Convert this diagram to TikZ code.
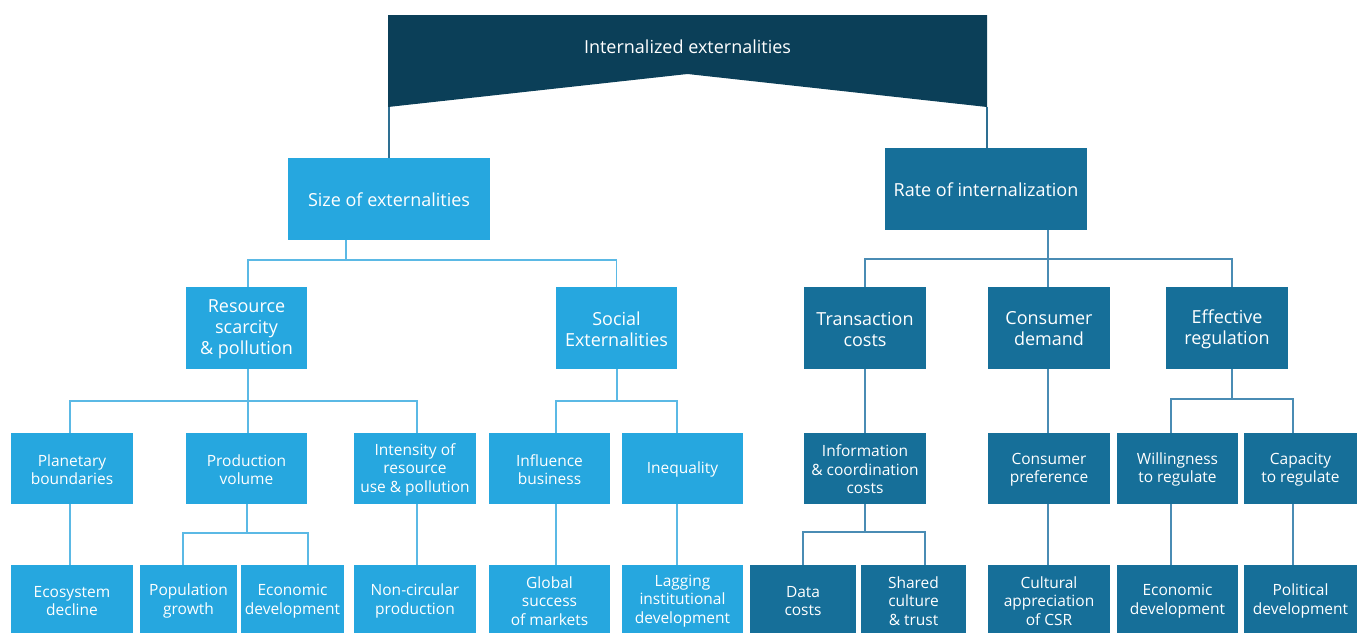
\documentclass[tikz,border=0pt]{standalone}
\usepackage{fontspec}
\setmainfont{Open Sans}
\usetikzlibrary{fit}
\definecolor{light}{HTML}{26A7DF}
\definecolor{dark}{HTML}{166F99}
\definecolor{banner}{HTML}{0B3F58}
\definecolor{lineL}{HTML}{5BB9E5}
\definecolor{lineR}{HTML}{4A8CB4}
\definecolor{lineT}{HTML}{2E6F92}
\tikzset{
  box/.style={rectangle, inner sep=0pt},
  lbox/.style={box, fill=light},
  dbox/.style={box, fill=dark},
  txt/.style={inner sep=0pt, align=center, text=white},
  big/.style={font=\fontsize{18}{21}\selectfont},
  small/.style={font=\fontsize{15.5}{18.5}\selectfont},
  conn/.style={line width=1.6pt},
}
% #1 name, #2-#5 corners, #6 fill style, #7 font style, #8 text
\newcommand\bx[8]{\node[#6, fit={(#2,#3) (#4,#5)}] (#1) {};
  \node[txt, #7] (#1-t) at ([yshift=-1pt]#1.center) {#8};}
\begin{document}
\begin{tikzpicture}[x=1pt,y=-1pt]
\useasboundingbox (0,0) rectangle (1357,632);
% banner
\coordinate (btl) at (388,15);
\coordinate (btr) at (987,15);
\coordinate (bbr) at (987,107);
\coordinate (bnotch) at (687.5,74);
\coordinate (bbl) at (388,107);
\fill[banner] (btl) -- (btr) -- (bbr) -- (bnotch) -- (bbl) -- cycle;
\node[txt, big] (ban) at (687.5,47) {Internalized externalities};
% level 1
\bx{size}{288}{158}{490}{240}{lbox}{big}{Size of externalities}
\bx{rate}{885}{148}{1087}{230}{dbox}{big}{Rate of internalization}
% level 2
\bx{res}{186}{287}{307}{369}{lbox}{big}{Resource\\scarcity\\\& pollution}
\bx{soc}{556}{287}{677}{369}{lbox}{big}{Social\\Externalities}
\bx{trans}{804}{287}{926}{369}{dbox}{big}{Transaction\\costs}
\bx{cdem}{988}{287}{1110}{369}{dbox}{big}{Consumer\\demand}
\bx{effr}{1166}{287}{1288}{369}{dbox}{big}{Effective\\regulation}
% level 3
\bx{plan}{11}{433}{133}{504}{lbox}{small}{Planetary\\boundaries}
\bx{prod}{186}{433}{307}{504}{lbox}{small}{Production\\volume}
\bx{inten}{354}{433}{476}{504}{lbox}{small}{Intensity of\\resource\\use \& pollution}
\bx{infl}{489}{433}{610}{504}{lbox}{small}{Influence\\business}
\bx{ineq}{622}{433}{743}{504}{lbox}{small}{Inequality}
\bx{info}{804}{433}{926}{504}{dbox}{small}{Information\\\& coordination\\costs}
\bx{cpref}{988}{433}{1110}{504}{dbox}{small}{Consumer\\preference}
\bx{will}{1117}{433}{1238}{504}{dbox}{small}{Willingness\\to regulate}
\bx{cap}{1244}{433}{1357}{504}{dbox}{small}{Capacity\\to regulate}
% level 4
\bx{eco}{11}{565}{133}{635}{lbox}{small}{Ecosystem\\decline}
\bx{pop}{140}{565}{237}{635}{lbox}{small}{Population\\growth}
\bx{econ}{241}{565}{344}{635}{lbox}{small}{Economic\\development}
\bx{nonc}{354}{565}{476}{635}{lbox}{small}{Non-circular\\production}
\bx{glob}{489}{565}{610}{635}{lbox}{small}{Global\\success\\of markets}
\bx{lag}{622}{565}{743}{635}{lbox}{small}{Lagging\\institutional\\development}
\bx{data}{750}{565}{856}{635}{dbox}{small}{Data\\costs}
\bx{shared}{861}{565}{966}{635}{dbox}{small}{Shared\\culture\\\& trust}
\bx{cult}{988}{565}{1110}{635}{dbox}{small}{Cultural\\appreciation\\of CSR}
\bx{econb}{1117}{565}{1238}{635}{dbox}{small}{Economic\\development}
\bx{pol}{1244}{565}{1357}{635}{dbox}{small}{Political\\development}
% hubs
\coordinate (hsize) at (346,260);
\coordinate (hrate) at (1048,259);
\coordinate (hres) at (248,401);
\coordinate (hsoc) at (617,401);
\coordinate (heff) at (1232,399);
\coordinate (hprod) at (247,533);
\coordinate (hinfo) at (865,532);
% top connectors
\draw[conn, lineT] (size.north) -- (size.north |- bbl);
\draw[conn, lineT] (rate.north -| bbr) -- (bbr);
% left tree
\begin{scope}[conn, lineL]
\draw (hsize |- size.south) -- (hsize);
\draw ([xshift=1.5pt]res.north) |- (hsize) -| (soc.north);
\draw (hres |- res.south) -- (hres);
\draw ([xshift=-2pt]plan.north) |- (hres) -| ([xshift=2pt]inten.north);
\draw (hres) -- (hres |- prod.north);
\draw (hsoc |- soc.south) -- (hsoc);
\draw ([xshift=6.5pt]infl.north) |- (hsoc) -| ([xshift=-5.5pt]ineq.north);
\draw ([xshift=-2pt]plan.south) -- ([xshift=-2pt]eco.north);
\draw (hprod |- prod.south) -- (hprod);
\draw ([xshift=-5.5pt]pop.north) |- (hprod) -| ([xshift=15.5pt]econ.north);
\draw ([xshift=2pt]inten.south) -- ([xshift=2pt]nonc.north);
\draw ([xshift=6.5pt]infl.south) -- ([xshift=6.5pt]glob.north);
\draw ([xshift=-5.5pt]ineq.south) -- ([xshift=-5.5pt]lag.north);
\end{scope}
% right tree
\begin{scope}[conn, lineR]
\draw (hrate |- rate.south) -- (hrate);
\draw (trans.north) |- (hrate) -| ([xshift=5pt]effr.north);
\draw (hrate) -- (hrate |- cdem.north);
\draw (trans.south) -- (info.north);
\draw (hrate |- cdem.south) -- (hrate |- cpref.north);
\draw (heff |- effr.south) -- (heff);
\draw ([xshift=-6.5pt]will.north) |- (heff) -| ([xshift=-7.5pt]cap.north);
\draw (hinfo |- info.south) -- (hinfo);
\draw (data.north) |- (hinfo) -| ([xshift=11.5pt]shared.north);
\draw (hrate |- cpref.south) -- (hrate |- cult.north);
\draw ([xshift=-6.5pt]will.south) -- ([xshift=-6.5pt]econb.north);
\draw ([xshift=-7.5pt]cap.south) -- ([xshift=-7.5pt]pol.north);
\end{scope}
\end{tikzpicture}
\end{document}
